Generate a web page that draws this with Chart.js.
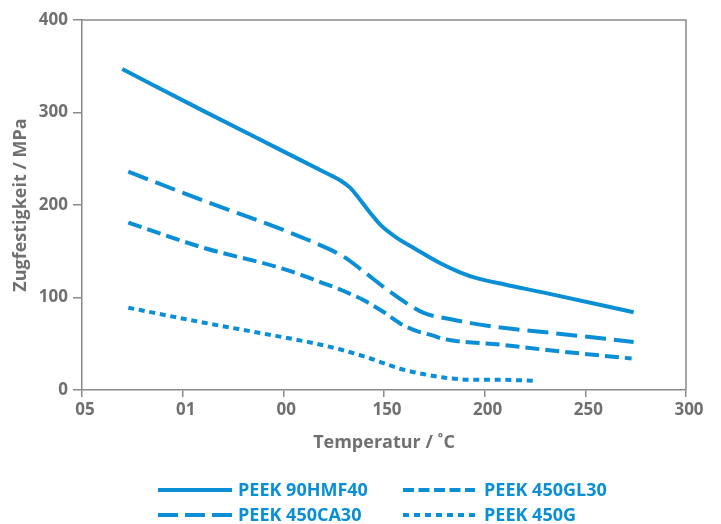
<!DOCTYPE html>
<html>
<head>
<meta charset="utf-8">
<script src="https://cdn.jsdelivr.net/npm/chart.js@4.4.0/dist/chart.umd.min.js"></script>
<style>
  html, body { margin: 0; padding: 0; background: #fff; }
</style>
</head>
<body>
<canvas id="line-chart" width="721" height="524"></canvas>
<script>
// Axis ticks (labels as printed in the original)
var xTicks = [0, 50, 100, 150, 200, 250, 300];
var xTickLabels = ["05", "01", "00", "150", "200", "250", "300"];

// PEEK 90HMF40 (solid)
var tempHMF40 = [20, 60, 100, 120, 128, 133, 138, 143, 148, 156, 166, 178, 188, 196, 210, 230, 274];
var valHMF40 = [347, 302, 258, 236, 227, 219, 206, 192, 179, 165, 152, 137, 127, 121, 114, 105, 84];

// PEEK 450CA30 (long dash)
var tempCA30 = [23, 60, 100, 120, 130, 140, 150, 159, 170, 182, 194, 210, 232, 274];
var valCA30 = [236, 205, 173, 155, 144, 128, 111, 97, 83, 77, 72, 67, 62, 52];

// PEEK 450GL30 (short dash)
var tempGL30 = [23, 60, 100, 118, 130, 140, 150, 158, 166, 174, 180, 208, 232, 273];
var valGL30 = [181, 154, 131, 117, 107, 97, 84, 72, 64, 59, 55, 49, 43, 34];

// PEEK 450G (dotted)
var temp450G = [23, 60, 90, 112, 128, 142, 158, 170, 181, 195, 208, 224];
var val450G = [89, 73, 61, 52, 44, 35, 23, 17, 13, 11, 11, 10];

var blue = "#0a8fd6";
var grey = "#707070";

function toPoints(xs, ys) {
  return xs.map(function (x, i) { return { x: x, y: ys[i] }; });
}

function makeSet(label, xs, ys, dash) {
  return {
    label: label,
    data: toPoints(xs, ys),
    borderColor: blue,
    backgroundColor: blue,
    borderWidth: 4,
    borderDash: dash,
    borderCapStyle: "butt",
    pointRadius: 0,
    cubicInterpolationMode: "monotone",
    fill: false
  };
}

// draws the top/right frame and the 2x2 legend under the chart
var framePlugin = {
  id: "frame",
  afterDraw: function (chart) {
    var ctx = chart.ctx;
    var a = chart.chartArea;
    ctx.save();
    ctx.strokeStyle = "#8a8a8a";
    ctx.lineWidth = 1.5;
    ctx.beginPath();
    ctx.moveTo(a.left, a.top);
    ctx.lineTo(a.right, a.top);
    ctx.lineTo(a.right, a.bottom);
    ctx.stroke();

    // legend: [dataset index, sample x, sample end, text x, y, dash]
    var slots = [
      [0, 158, 232, 238, 490, []],
      [2, 403, 475, 484, 490, [11, 4.5]],
      [1, 158, 232, 238, 515, [20, 7]],
      [3, 403, 475, 484, 515, [6, 5]]
    ];
    ctx.font = "bold 18px 'Open Sans'";
    ctx.textBaseline = "middle";
    ctx.fillStyle = blue;
    slots.forEach(function (s) {
      var ds = chart.data.datasets[s[0]];
      ctx.strokeStyle = blue;
      ctx.lineWidth = 4;
      ctx.lineCap = "butt";
      ctx.setLineDash(s[5]);
      ctx.beginPath();
      ctx.moveTo(s[1], s[4]);
      ctx.lineTo(s[2], s[4]);
      ctx.stroke();
      ctx.setLineDash([]);
      ctx.fillText(ds.label, s[3], s[4] + 1);
    });
    ctx.restore();
  }
};

var ctx = document.getElementById("line-chart").getContext("2d");
var lineChart = new Chart(ctx, {
  type: "line",
  data: {
    datasets: [
      makeSet("PEEK 90HMF40", tempHMF40, valHMF40, []),
      makeSet("PEEK 450CA30", tempCA30, valCA30, [21, 8]),
      makeSet("PEEK 450GL30", tempGL30, valGL30, [14, 6]),
      makeSet("PEEK 450G", temp450G, val450G, [6, 4.7])
    ]
  },
  options: {
    responsive: false,
    animation: false,
    layout: { padding: { left: 0, top: 20, right: 35, bottom: 69 } },
    plugins: {
      legend: { display: false },
      tooltip: { enabled: false }
    },
    scales: {
      x: {
        type: "linear",
        min: 0,
        max: 300,
        afterBuildTicks: function (scale) {
          scale.ticks = xTicks.map(function (v) { return { value: v }; });
        },
        afterFit: function (scale) { scale.height = 65; },
        ticks: {
          color: grey,
          font: { family: "'Open Sans'", size: 17, weight: "bold" },
          padding: 3,
          labelOffset: 3,
          maxRotation: 0,
          callback: function (value) {
            return xTickLabels[xTicks.indexOf(value)];
          }
        },
        grid: { drawOnChartArea: false, color: "#8a8a8a", lineWidth: 1.5, tickLength: 7 },
        border: { color: "#8a8a8a", width: 1.5 },
        title: {
          display: true,
          text: "Temperatur / ˚C",
          color: grey,
          font: { family: "'Open Sans'", size: 18, weight: "bold" },
          padding: { top: 0, bottom: 1 }
        }
      },
      y: {
        min: 0,
        max: 400,
        afterFit: function (scale) { scale.width = 82; },
        ticks: {
          stepSize: 100,
          color: grey,
          font: { family: "'Open Sans'", size: 17, weight: "bold" },
          padding: 5
        },
        grid: { drawOnChartArea: false, color: "#8a8a8a", lineWidth: 1.5, tickLength: 9 },
        border: { color: "#8a8a8a", width: 1.5 },
        title: {
          display: true,
          text: "Zugfestigkeit / MPa",
          color: grey,
          font: { family: "'Open Sans'", size: 18, weight: "bold" },
          padding: { top: 10, bottom: 0 }
        }
      }
    }
  },
  plugins: [framePlugin]
});
</script>
</body>
</html>
